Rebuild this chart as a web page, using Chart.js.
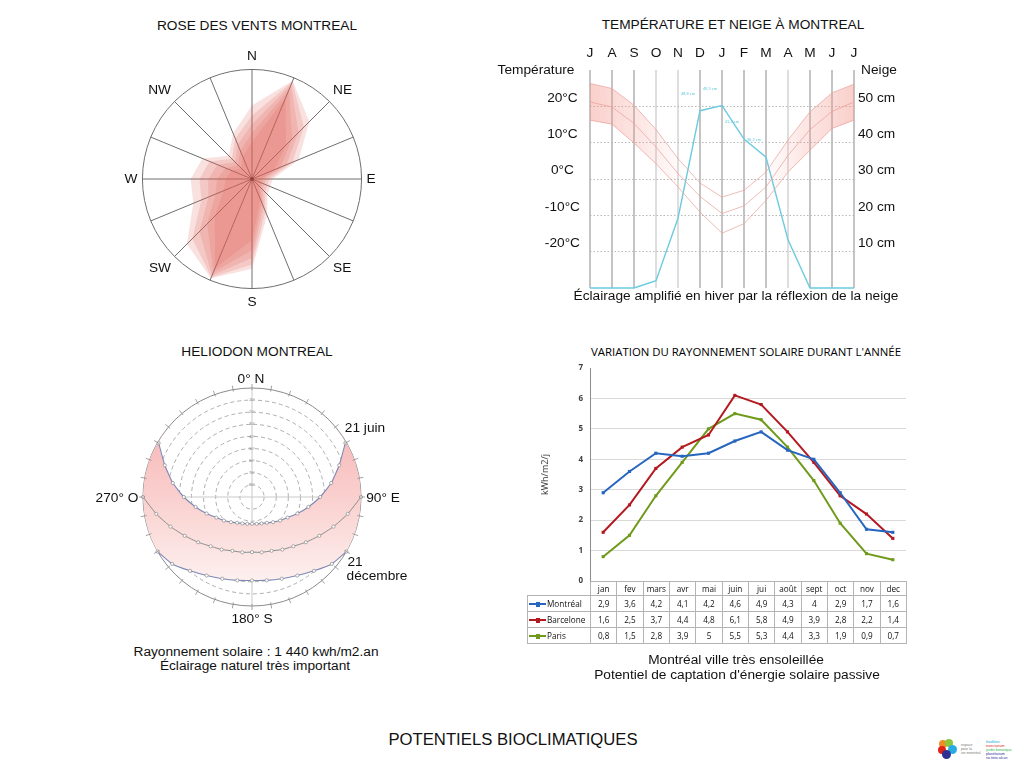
<!DOCTYPE html>
<html lang="fr">
<head>
<meta charset="UTF-8">
<title>Potentiels bioclimatiques - Montréal</title>
<script src="https://cdn.jsdelivr.net/npm/chart.js"></script>
<style>
  body { margin: 0; background: #fff; font-family: 'Liberation Sans', Arial, sans-serif; color: #111; }
  #page { position: relative; width: 1024px; height: 768px; overflow: hidden; background: #fff; }
  canvas { position: absolute; }
  .t { position: absolute; transform: translate(-50%, -50%); white-space: nowrap; font-size: 13.7px; line-height: 1; }
  .cal { font-family: 'Open Sans', sans-serif; }
  #tbl { position: absolute; border-collapse: collapse; table-layout: fixed; font-family: 'Open Sans', sans-serif; font-size: 8.2px; color: #111; }
  #tbl td { border: 1px solid #b4b4b4; padding: 0; height: 15px; line-height: 15px; text-align: center; overflow: hidden; white-space: nowrap; }
  #tbl tr.hd td { height: 13px; line-height: 13px; border-bottom: 1px solid #b4b4b4; }
  #tbl td.blank { border: none; border-bottom: 1px solid #b4b4b4; }
  #tbl td.lg { text-align: left; }
  .mk { display: inline-block; position: relative; width: 17px; height: 2px; vertical-align: middle; margin: 0 1px 1px 1px; }
  .mk i { position: absolute; left: 6.5px; top: -1.5px; width: 4px; height: 5px; }
  .logo { position: absolute; }
  .logo b { position: absolute; border-radius: 50%; }
  .logo span { position: absolute; font-size: 3.6px; line-height: 4px; white-space: nowrap; }
</style>
</head>
<body>
<div id="page">

  <!-- titres -->
  <div class="t" style="left:257px;top:26px;">ROSE DES VENTS MONTREAL</div>
  <div class="t" style="left:733px;top:25px;">TEMPÉRATURE ET NEIGE À MONTREAL</div>
  <div class="t" style="left:257px;top:352px;">HELIODON MONTREAL</div>
  <div class="t cal" style="left:746px;top:352px;font-size:11.4px;color:#000;">VARIATION DU RAYONNEMENT SOLAIRE DURANT L'ANNÉE</div>

  <canvas id="rose" width="262" height="262" style="left:120px;top:48px;"></canvas>

  <canvas id="temp" width="374" height="267" style="left:530px;top:40px;"></canvas>
  <div class="t" style="left:536px;top:70px;">Température</div>
  <div class="t" style="left:879px;top:70px;">Neige</div>
  <div class="t" style="left:736px;top:296px;">Éclairage amplifié en hiver par la réflexion de la neige</div>

  <canvas id="helio" width="240" height="240" style="left:132px;top:377px;"></canvas>
  <div class="t" style="left:251px;top:379px;">0° N</div>
  <div class="t" style="left:117px;top:498px;">270° O</div>
  <div class="t" style="left:383px;top:498px;">90° E</div>
  <div class="t" style="left:252px;top:619px;">180° S</div>
  <div class="t" style="left:365px;top:428px;">21 juin</div>
  <div class="t" style="left:355px;top:562px;">21</div>
  <div class="t" style="left:377px;top:576px;">décembre</div>
  <div class="t" style="left:256px;top:652px;">Rayonnement solaire : 1 440 kwh/m2.an</div>
  <div class="t" style="left:255px;top:666px;">Éclairage naturel très important</div>

  <canvas id="solar" width="370" height="237" style="left:540px;top:356px;"></canvas>
  <table id="tbl"></table>
  <div class="t" style="left:736px;top:660px;">Montréal ville très ensoleillée</div>
  <div class="t" style="left:737px;top:675px;">Potentiel de captation d'énergie solaire passive</div>

  <div class="t" style="left:513px;top:740px;font-size:16.7px;">POTENTIELS BIOCLIMATIQUES</div>

  <div class="logo" style="left:936px;top:738px;width:80px;height:24px;">
    <b style="left:3px;top:2px;width:8px;height:8px;background:#f28c28;"></b>
    <b style="left:9px;top:1px;width:8px;height:8px;background:#8cc63f;"></b>
    <b style="left:12px;top:7px;width:9px;height:9px;background:#29abe2;"></b>
    <b style="left:2px;top:8px;width:8px;height:8px;background:#e2231a;"></b>
    <b style="left:6px;top:12px;width:9px;height:9px;background:#2e3192;"></b>
    <span style="left:25px;top:5px;color:#777;">espace<br>pour la<br>vie montréal</span>
    <span style="left:50px;top:2px;color:#29abe2;">biodôme</span>
    <span style="left:50px;top:6px;color:#e2231a;">insectarium</span>
    <span style="left:50px;top:10px;color:#39b54a;">jardin botanique</span>
    <span style="left:50px;top:14px;color:#2e3192;">planétarium<br>rio tinto alcan</span>
  </div>
</div>

<script>
const SANS = "'Liberation Sans', Arial, sans-serif";
const CAL = "'Open Sans', sans-serif";

// --- rose des vents (16 directions, fraction du rayon) ---
const windDirs = ['N', '', 'NE', '', 'E', '', 'SE', '', 'S', '', 'SW', '', 'W', '', 'NW', ''];
const windLayer1 = [0.67, 0.97, 0.74, 0.46, 0.19, 0.18, 0.20, 0.36, 0.82, 0.98, 0.84, 0.58, 0.56, 0.49, 0.30, 0.45];
const windLayer2 = [0.58, 0.96, 0.67, 0.40, 0.16, 0.15, 0.17, 0.32, 0.78, 0.97, 0.77, 0.50, 0.48, 0.42, 0.26, 0.40];
const windLayer3 = [0.50, 0.93, 0.60, 0.34, 0.13, 0.12, 0.14, 0.28, 0.72, 0.95, 0.68, 0.43, 0.40, 0.34, 0.22, 0.34];
const windLayer4 = [0.42, 0.88, 0.52, 0.28, 0.10, 0.10, 0.11, 0.24, 0.65, 0.92, 0.58, 0.36, 0.32, 0.26, 0.18, 0.28];
const windLayer5 = [0.34, 0.80, 0.44, 0.22, 0.08, 0.08, 0.09, 0.20, 0.56, 0.88, 0.48, 0.28, 0.24, 0.20, 0.14, 0.22];

// --- température (°C) et neige (cm), juillet à juillet ---
const tempMonths = ['J', 'A', 'S', 'O', 'N', 'D', 'J', 'F', 'M', 'A', 'M', 'J', 'J'];
const tempMax  = [26.3, 24.9, 20.3, 13.6, 5.6, -1.1, -5.0, -3.1, 1.9, 10.7, 18.5, 23.7, 26.1];
const tempMean = [21.2, 19.8, 15.3, 8.8, 1.5, -4.8, -9.5, -7.4, -2.2, 6.5, 13.6, 18.6, 21.2];
const tempMin  = [16.2, 15.1, 9.9, 4.2, -2.2, -9.1, -14.9, -12.3, -5.9, 1.9, 7.9, 13.9, 16.2];
const snowCm   = [0, 0, 0, 2, 19.2, 48.8, 50.2, 41, 36, 13.3, 0, 0, 0];
const snowNotes = [null, null, null, null, null, '48,8 cm', '49,5 cm', '41,2 cm', '36,2 cm', null, null, null, null];
const tempTicks = [-20, -10, 0, 10, 20];
const snowTicks = [10, 20, 30, 40, 50];

// --- héliodon : hauteur du soleil (°) par azimut ---
const heliAzimuth = [0, 10, 20, 30, 40, 50, 60, 70, 80, 90, 100, 110, 120, 130, 140, 150, 160, 170,
                     180, 190, 200, 210, 220, 230, 240, 250, 260, 270, 280, 290, 300, 310, 320, 330, 340, 350];
const sunJune = [null, null, null, null, null, null, 1, 13.4, 23.6, 33.7, 42.7, 50.1, 56, 59.7, 62.9, 65.4, 66.8, 67.5,
                 67.9, 67.5, 66.8, 65.4, 62.9, 59.7, 56, 50.1, 42.7, 33.7, 23.6, 13.4, 1, null, null, null, null, null];
const sunEquinox = [null, null, null, null, null, null, null, null, null, 0, 9.7, 18.4, 25.9, 31.9, 36.9, 39.9, 42.7, 43.6,
                    44.5, 43.6, 42.7, 39.9, 36.9, 31.9, 25.9, 18.4, 9.7, 0, null, null, null, null, null, null, null, null];
const sunDec = [null, null, null, null, null, null, null, null, null, null, null, null, 0, 4, 10.4, 15.1, 18.2, 20.1,
                21.1, 20.1, 18.2, 15.1, 10.4, 4, 0, null, null, null, null, null, null, null, null, null, null, null];

// --- rayonnement solaire (kWh/m2/j) ---
const solarMonths = ['jan', 'fev', 'mars', 'avr', 'mai', 'juin', 'jui', 'août', 'sept', 'oct', 'nov', 'dec'];
const solarMontreal  = [2.9, 3.6, 4.2, 4.1, 4.2, 4.6, 4.9, 4.3, 4, 2.9, 1.7, 1.6];
const solarBarcelone = [1.6, 2.5, 3.7, 4.4, 4.8, 6.1, 5.8, 4.9, 3.9, 2.8, 2.2, 1.4];
const solarParis     = [0.8, 1.5, 2.8, 3.9, 5, 5.5, 5.3, 4.4, 3.3, 1.9, 0.9, 0.7];

Chart.defaults.font.family = SANS;
Chart.defaults.animation = false;
Chart.defaults.devicePixelRatio = 1;
Chart.defaults.plugins.legend.display = false;
Chart.defaults.plugins.tooltip.enabled = false;

// ROSE DES VENTS
const windLayers = [windLayer1, windLayer2, windLayer3, windLayer4, windLayer5];
new Chart(document.getElementById('rose'), {
  type: 'radar',
  data: {
    labels: windDirs,
    datasets: windLayers.map(d => ({
      data: d, fill: true, backgroundColor: 'rgba(222,95,85,0.19)', borderWidth: 0, pointRadius: 0
    })).concat([{ data: [0], pointRadius: 2, pointBackgroundColor: '#111', pointBorderWidth: 0, borderWidth: 0, fill: false }])
  },
  options: {
    responsive: false,
    scales: {
      r: {
        min: 0, max: 1,
        ticks: { display: false, stepSize: 1 },
        grid: { circular: true, color: '#6e6e6e', lineWidth: 1 },
        angleLines: { color: '#6e6e6e', lineWidth: 1 },
        pointLabels: { font: { size: 13.7, family: SANS }, color: '#111', padding: 5 }
      }
    }
  }
});

// TEMPÉRATURE ET NEIGE
function bandFill(ctx) {
  const ca = ctx.chart.chartArea;
  if (!ca) return 'rgba(0,0,0,0)';
  const g = ctx.chart.ctx.createLinearGradient(ca.left, 0, ca.right, 0);
  g.addColorStop(0, 'rgba(243,150,140,0.45)');
  g.addColorStop(0.2, 'rgba(243,150,140,0.22)');
  g.addColorStop(0.36, 'rgba(243,150,140,0)');
  g.addColorStop(0.66, 'rgba(243,150,140,0)');
  g.addColorStop(0.8, 'rgba(243,150,140,0.22)');
  g.addColorStop(1, 'rgba(243,150,140,0.45)');
  return g;
}
const snowNotePlugin = {
  id: 'snowNotes',
  afterDatasetsDraw(chart) {
    const meta = chart.getDatasetMeta(3);
    const c = chart.ctx;
    c.save();
    c.font = '4px ' + SANS;
    c.fillStyle = '#5cc6dc';
    c.textAlign = 'center';
    snowNotes.forEach((txt, i) => {
      if (!txt) return;
      const p = meta.data[i];
      c.fillText(txt, p.x - 12, p.y - 16);
    });
    c.restore();
  }
};
const tempLine = 'rgba(232,165,160,0.75)';
new Chart(document.getElementById('temp'), {
  type: 'line',
  data: {
    labels: tempMonths,
    datasets: [
      { data: tempMax, yAxisID: 'yT', borderColor: tempLine, borderWidth: 1, pointRadius: 0, fill: '+2', backgroundColor: bandFill },
      { data: tempMean, yAxisID: 'yT', borderColor: tempLine, borderWidth: 1, pointRadius: 0, fill: false },
      { data: tempMin, yAxisID: 'yT', borderColor: tempLine, borderWidth: 1, pointRadius: 0, fill: false },
      { data: snowCm, yAxisID: 'yS', borderColor: '#6ccbe0', borderWidth: 1.4, pointRadius: 0, fill: false }
    ]
  },
  options: {
    responsive: false,
    clip: false,
    layout: { padding: { bottom: 19 } },
    scales: {
      x: {
        position: 'top',
        grid: { color: c => [3, 4, 9].includes(c.index) ? '#dedede' : '#c4c4c4', lineWidth: 2, drawTicks: false },
        border: { display: false },
        ticks: { font: { size: 13.7 }, color: '#111', padding: 9, maxRotation: 0, autoSkip: false },
        afterFit: s => { s.height = 30; }
      },
      yT: {
        position: 'left', min: -30, max: 30,
        afterBuildTicks: s => { s.ticks = tempTicks.map(v => ({ value: v })); },
        ticks: { callback: v => v + '°C', crossAlign: 'center', padding: 10, labelOffset: -8.5, font: { size: 13.7 }, color: '#111' },
        grid: { color: '#b8b8b8', drawTicks: false },
        border: { display: false, dash: [1.5, 2] },
        afterFit: s => { s.width = 60; }
      },
      yS: {
        position: 'right', min: 0, max: 60,
        afterBuildTicks: s => { s.ticks = snowTicks.map(v => ({ value: v })); },
        ticks: { callback: v => v + ' cm', padding: 4, labelOffset: -8.5, font: { size: 13.7 }, color: '#111' },
        grid: { drawOnChartArea: false, drawTicks: false },
        border: { display: false },
        afterFit: s => { s.width = 50; }
      }
    }
  },
  plugins: [snowNotePlugin]
});

// HELIODON
const rimTicks = {
  id: 'rimTicks',
  afterDraw(chart) {
    const s = chart.scales.r;
    const c = chart.ctx;
    c.save();
    c.strokeStyle = '#8a8a8a';
    c.lineWidth = 0.8;
    for (let i = 0; i < chart.data.labels.length; i++) {
      const a = s.getPointPosition(i, s.drawingArea - 2);
      const b = s.getPointPosition(i, s.drawingArea + 4);
      c.beginPath(); c.moveTo(a.x, a.y); c.lineTo(b.x, b.y); c.stroke();
    }
    c.restore();
  }
};
function pinkFill(ctx) {
  const ca = ctx.chart.chartArea;
  if (!ca) return 'rgba(0,0,0,0)';
  const g = ctx.chart.ctx.createLinearGradient(0, ca.top + 55, 0, ca.bottom - 25);
  g.addColorStop(0, '#f8bcbc');
  g.addColorStop(0.55, '#fad8d6');
  g.addColorStop(1, '#fdf1f0');
  return g;
}
const toZenith = a => (a === null ? null : 90 - a);
const pathStyle = {
  fill: false, tension: 0.15, spanGaps: false,
  pointRadius: 1.6, pointBackgroundColor: '#fff', pointBorderColor: '#8a8a8a', pointBorderWidth: 0.7
};
new Chart(document.getElementById('helio'), {
  type: 'radar',
  data: {
    labels: heliAzimuth,
    datasets: [
      { ...pathStyle, data: sunJune.map(toZenith), borderColor: '#7d88b5', borderWidth: 1.1 },
      { ...pathStyle, data: sunEquinox.map(toZenith), borderColor: '#8c8c8c', borderWidth: 1 },
      { ...pathStyle, data: sunDec.map(toZenith), borderColor: '#7d88b5', borderWidth: 1.1 },
      { data: sunJune.map(a => 90 - (a ?? 0)), fill: '+1', backgroundColor: pinkFill, borderWidth: 0, pointRadius: 0, tension: 0.15 },
      { data: sunDec.map(a => 90 - (a ?? 0)), fill: false, borderWidth: 0, pointRadius: 0, tension: 0.15 }
    ]
  },
  options: {
    responsive: false,
    layout: { padding: 9 },
    scales: {
      r: {
        min: 0, max: 90,
        ticks: {
          stepSize: 10, font: { size: 4 }, color: '#888', backdropPadding: 0, showLabelBackdrop: false,
          callback: v => (v === 90 ? '' : (90 - v) + '°')
        },
        grid: { circular: true, color: c => (c.index === 9 ? '#8a8a8a' : '#9a9a9a'), lineWidth: c => (c.index === 9 ? 1 : 0.8) },
        border: { dash: c => (c.index === 9 ? [] : [4, 3]) },
        angleLines: { color: c => (c.index % 9 === 0 ? '#c9c9c9' : 'rgba(0,0,0,0)'), lineWidth: 1 },
        pointLabels: { display: false }
      }
    }
  },
  plugins: [rimTicks]
});

// RAYONNEMENT SOLAIRE
const solarSeries = [
  { name: 'Montréal', data: solarMontreal, color: '#2766bf' },
  { name: 'Barcelone', data: solarBarcelone, color: '#b4191f' },
  { name: 'Paris', data: solarParis, color: '#6f9a1c' }
];
const solarChart = new Chart(document.getElementById('solar'), {
  type: 'line',
  data: {
    labels: solarMonths,
    datasets: solarSeries.map(s => ({
      label: s.name, data: s.data, borderColor: s.color, backgroundColor: s.color,
      borderWidth: 2, pointStyle: 'rect', pointRadius: 2.2, pointBorderWidth: 0, tension: 0
    }))
  },
  options: {
    responsive: false,
    layout: { padding: { top: 12, bottom: 12, right: 4 } },
    scales: {
      x: { offset: true, display: false },
      y: {
        min: 0, max: 7,
        ticks: { stepSize: 1, font: { size: 8, weight: 'bold', family: CAL }, color: '#404040', padding: 7 },
        grid: { drawTicks: false, color: c => (c.tick && c.tick.value === 7 ? 'rgba(0,0,0,0)' : '#d9d9d9') },
        border: { color: '#8c8c8c' },
        title: { display: true, text: 'kWh/m2/j', font: { size: 9, family: CAL }, color: '#333', padding: 0 },
        afterFit: s => { s.width = 50; }
      }
    }
  }
});

// tableau de données sous le graphique
(function buildTable() {
  const ca = solarChart.chartArea;
  const cv = document.getElementById('solar');
  const firstCol = 63;
  const colW = (ca.right - ca.left) / solarMonths.length;
  const fmt = v => String(v).replace('.', ',');
  const tbl = document.getElementById('tbl');
  let html = '<colgroup><col style="width:' + firstCol + 'px">' +
    solarMonths.map(() => '<col style="width:' + colW + 'px">').join('') + '</colgroup>';
  html += '<tr class="hd"><td class="blank"></td>' + solarMonths.map(m => '<td>' + m + '</td>').join('') + '</tr>';
  solarSeries.forEach(s => {
    html += '<tr><td class="lg"><span class="mk" style="background:' + s.color + '"><i style="background:' + s.color + '"></i></span>' + s.name + '</td>' +
      s.data.map(v => '<td>' + fmt(v) + '</td>').join('') + '</tr>';
  });
  tbl.innerHTML = html;
  tbl.style.left = (cv.offsetLeft + ca.left - firstCol) + 'px';
  tbl.style.top = (cv.offsetTop + ca.bottom) + 'px';
  tbl.style.width = (firstCol + ca.right - ca.left) + 'px';
})();
</script>
</body>
</html>
